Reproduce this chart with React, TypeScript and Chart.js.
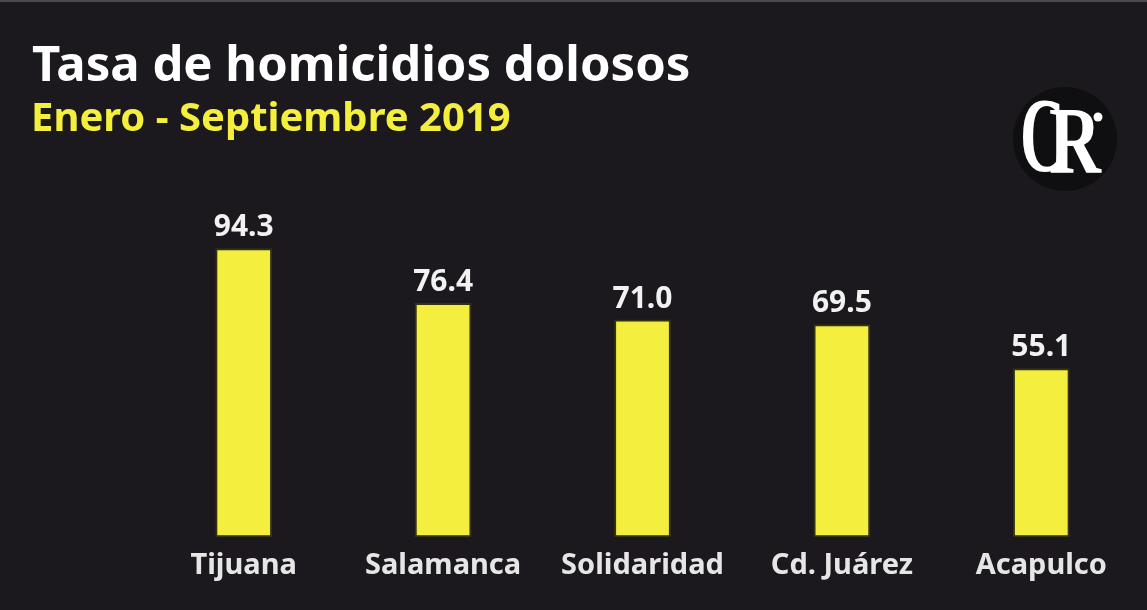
import React, { useEffect, useRef } from "react";
import { Chart, registerables } from "chart.js";

Chart.register(...registerables);

const categories = ["Tijuana", "Salamanca", "Solidaridad", "Cd. Juárez", "Acapulco"];
const values = [94.3, 76.4, 71.0, 69.5, 55.1];
const valueLabels = ["94.3", "76.4", "71.0", "69.5", "55.1"];
const titleText = "Tasa de homicidios dolosos";
const subtitleText = "Enero - Septiembre 2019";
const logoLetters = ["C", "R"];

const BG = "#1b191d";
const FONT = "'Noto Sans', 'Open Sans', sans-serif";

const decorPlugin = {
  id: "decor",
  beforeDraw(chart: any) {
    const ctx = chart.ctx;
    ctx.save();
    ctx.fillStyle = BG;
    ctx.fillRect(0, 0, chart.width, chart.height);
    ctx.fillStyle = "#4a494d";
    ctx.fillRect(0, 0, chart.width, 2);
    ctx.restore();
  },
  afterDatasetsDraw(chart: any) {
    const ctx = chart.ctx;
    ctx.save();
    // titles
    ctx.textAlign = "left";
    ctx.textBaseline = "alphabetic";
    ctx.fillStyle = "#ffffff";
    ctx.font = `bold 49px ${FONT}`;
    ctx.fillText(titleText, 32, 81);
    ctx.fillStyle = "#f3ef3c";
    ctx.font = `bold 40px ${FONT}`;
    ctx.fillText(subtitleText, 31, 131);

    // value labels
    const meta = chart.getDatasetMeta(0);
    ctx.fillStyle = "#f2f2f2";
    ctx.font = `bold 30px ${FONT}`;
    ctx.textAlign = "center";
    meta.data.forEach((bar: any, i: number) => {
      ctx.fillText(valueLabels[i], bar.x, bar.y - 12);
    });

    // logo
    ctx.fillStyle = "#0f0e10";
    ctx.beginPath();
    ctx.arc(1065, 139, 52, 0, Math.PI * 2);
    ctx.fill();
    ctx.fillStyle = "#ffffff";
    ctx.font = `bold 100px 'Liberation Serif', serif`;
    ctx.textAlign = "left";
    ctx.save();
    ctx.translate(1020, 171);
    ctx.scale(0.62, 1.05);
    ctx.fillText(logoLetters[0], 0, 0);
    ctx.restore();
    ctx.save();
    ctx.translate(1049, 173);
    ctx.scale(0.72, 0.95);
    ctx.fillText(logoLetters[1], 0, 0);
    ctx.restore();
    ctx.beginPath();
    ctx.arc(1098, 117, 4.5, 0, Math.PI * 2);
    ctx.fill();
    ctx.restore();
  },
};

export default function App() {
  const ref = useRef<HTMLCanvasElement>(null);
  useEffect(() => {
    document.body.style.margin = "0";
    document.body.style.background = BG;
    const chart = new Chart(ref.current!, {
      type: "bar",
      data: {
        labels: categories,
        datasets: [
          {
            data: values,
            backgroundColor: "#f4ee3e",
            borderColor: "#34320f",
            borderWidth: 2,
            borderSkipped: false,
            barPercentage: 0.285,
            categoryPercentage: 1,
          },
        ],
      },
      options: {
        animation: false,
        responsive: false,
        maintainAspectRatio: false,
        layout: { padding: { left: 144, right: 6, top: 200, bottom: 16 } },
        plugins: {
          legend: { display: false },
          title: { display: false },
          tooltip: { enabled: false },
        },
        scales: {
          x: {
            grid: { display: false, drawTicks: false },
            border: { display: false },
            ticks: {
              color: "#e6e6e6",
              font: { family: FONT, size: 29, weight: "bold" },
              padding: 11,
              maxRotation: 0,
              autoSkip: false,
            },
          },
          y: {
            display: false,
            min: 0,
            max: 110,
          },
        },
      },
      plugins: [decorPlugin],
    });
    return () => chart.destroy();
  }, []);
  return (
    <div style={{ width: 1147, height: 610, background: BG }}>
      <canvas ref={ref} width={1147} height={610} />
    </div>
  );
}
